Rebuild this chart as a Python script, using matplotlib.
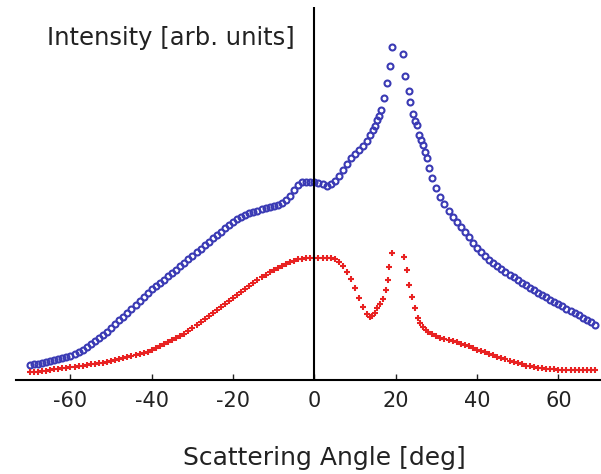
import matplotlib.pyplot as plt
import numpy as np

plt.rcParams['font.family'] = ['DejaVu Sans']
plt.rcParams['axes.unicode_minus'] = False

# scattering angle [deg] and intensity [arb. units], blue series (open circles)
blue_angle = (list(range(-70, 14))
              + [13.7, 14.3, 15.0, 15.5, 16.0, 16.5, 17.0, 17.8, 18.5, 19.2,
                 21.7, 22.4, 23.2, 23.6, 24.2, 24.8, 25.3, 25.7, 26.2, 26.7,
                 27.2, 27.7, 28.3]
              + list(range(29, 70)))
blue_int = [15, 16, 16, 17, 18, 19, 20, 21, 22, 23,
            24, 26, 28, 30, 33, 36, 39, 42, 45, 48,
            52, 56, 60, 63, 67, 71, 75, 79, 83, 87,
            91, 94, 97, 100, 104, 107, 110, 114, 117, 121,
            124, 128, 131, 135, 138, 142, 145, 148, 152, 155,
            158, 161, 163, 165, 167, 168, 169, 171, 172, 173,
            174, 175, 177, 180, 184, 190, 195, 198, 198, 198,
            198, 197, 196, 194, 196, 199, 204, 210, 216, 222, 226, 230, 234, 239,
            245, 250, 254, 260, 264, 270, 282, 297, 314, 333,
            326, 304, 289, 278, 266, 259, 255, 245, 240, 235,
            228, 222, 212,
            202, 192, 183, 176, 169, 163, 158, 153, 148, 143,
            137, 132, 128, 124, 120, 117, 114, 111, 108, 105,
            103, 100, 97, 95, 92, 90, 87, 85, 83, 80,
            78, 76, 74, 71, 69, 67, 65, 62, 60, 58, 55]

# red series (plus markers)
red_angle = (list(range(-70, 14))
             + [13.6, 14.2, 14.8, 15.5, 16.2, 16.8, 17.5, 18.0, 18.4, 19.0,
                22.0, 22.7, 23.2, 24.0, 24.7, 25.4, 26.0, 26.7, 27.4]
             + list(range(28, 70)))
red_int = [8, 8, 8, 9, 9, 10, 11, 11, 12, 12,
           13, 13, 14, 14, 15, 16, 16, 17, 17, 18,
           19, 20, 21, 22, 23, 24, 25, 26, 27, 28,
           30, 32, 34, 36, 38, 40, 42, 44, 46, 49,
           52, 55, 58, 61, 64, 67, 70, 73, 76, 79,
           82, 85, 88, 91, 94, 97, 100, 103, 105, 108,
           110, 112, 114, 116, 118, 119, 121, 121, 122, 122,
           122, 122, 122, 122, 122, 121, 118, 114, 108, 101, 92, 82, 73, 66,
           63, 64, 67, 72, 76, 81, 90, 100, 113, 127,
           123, 110, 95, 83, 72, 62, 57, 53, 50,
           48, 46, 44, 42, 41, 40, 39, 38, 36, 35,
           34, 32, 30, 29, 28, 26, 25, 23, 22, 21,
           19, 18, 17, 16, 14, 14, 13, 12, 12, 11,
           11, 11, 10, 10, 10, 10, 10, 10, 10, 10, 10, 10]

xticks = [-60, -40, -20, 0, 20, 40, 60]


def main():
    fig = plt.figure(figsize=(6.01, 4.74), dpi=100)
    ax = fig.add_axes([16 / 601, 94 / 474, 585 / 601, 373 / 474])

    ax.plot(blue_angle, blue_int, 'o', ms=4.3, mew=1.5, mfc='none',
            color='#3a3ab4', ls='none')
    ax.plot(red_angle, red_int, '+', ms=4.3, mew=1.5,
            color='#e82222', ls='none')

    # zero-angle marker line
    ax.axvline(0, color='black', lw=1.5)

    ax.set_xlim(-73.4, 70.5)
    ax.set_ylim(0, 373)
    ax.set_xticks(xticks)
    ax.set_yticks([])
    for s in ['left', 'top', 'right']:
        ax.spines[s].set_visible(False)
    ax.spines['bottom'].set_linewidth(1.5)
    ax.tick_params(axis='x', direction='in', length=4, width=1,
                   labelsize=15, pad=8, colors='#222222')

    fig.text(47 / 601, 1 - 38 / 474, 'Intensity [arb. units]',
             fontsize=17.5, ha='left', va='center', color='#222222')
    fig.text(324 / 601, 1 - 458 / 474, 'Scattering Angle [deg]',
             fontsize=18, ha='center', va='center', color='#222222')

    fig.savefig('out.png', dpi=100)


if __name__ == "__main__":
    main()
